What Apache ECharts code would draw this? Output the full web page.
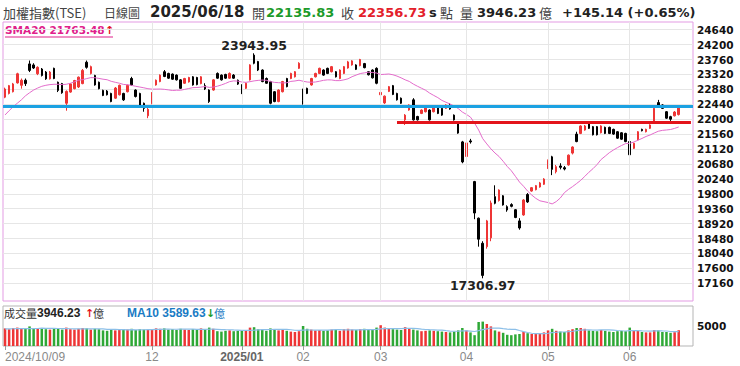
<!DOCTYPE html>
<html><head><meta charset="utf-8">
<script src="https://cdn.jsdelivr.net/npm/echarts@6/dist/echarts.min.js"></script>
<style>html,body{margin:0;padding:0;background:#fff}#c{width:740px;height:366px}</style>
</head><body><div id="c"></div>
<script>
// ---- trading days ----
const dates = [
'2024/10/09','2024/10/11','2024/10/14','2024/10/15','2024/10/16','2024/10/17','2024/10/18','2024/10/21','2024/10/22','2024/10/23','2024/10/24','2024/10/25','2024/10/28','2024/10/29','2024/10/30',
'2024/11/01','2024/11/04','2024/11/05','2024/11/06','2024/11/07','2024/11/08','2024/11/11','2024/11/12','2024/11/13','2024/11/14','2024/11/15','2024/11/18','2024/11/19','2024/11/20','2024/11/21','2024/11/22','2024/11/25','2024/11/26','2024/11/27','2024/11/28','2024/11/29',
'2024/12/02','2024/12/03','2024/12/04','2024/12/05','2024/12/06','2024/12/09','2024/12/10','2024/12/11','2024/12/12','2024/12/13','2024/12/16','2024/12/17','2024/12/18','2024/12/19','2024/12/20','2024/12/23','2024/12/24','2024/12/25','2024/12/26','2024/12/27','2024/12/30','2024/12/31',
'2025/01/02','2025/01/03','2025/01/06','2025/01/07','2025/01/08','2025/01/09','2025/01/10','2025/01/13','2025/01/14','2025/01/15','2025/01/16','2025/01/17','2025/01/20','2025/01/21','2025/01/22',
'2025/02/03','2025/02/04','2025/02/05','2025/02/06','2025/02/07','2025/02/10','2025/02/11','2025/02/12','2025/02/13','2025/02/14','2025/02/17','2025/02/18','2025/02/19','2025/02/20','2025/02/21','2025/02/24','2025/02/25','2025/02/26','2025/02/27',
'2025/03/03','2025/03/04','2025/03/05','2025/03/06','2025/03/07','2025/03/10','2025/03/11','2025/03/12','2025/03/13','2025/03/14','2025/03/17','2025/03/18','2025/03/19','2025/03/20','2025/03/21','2025/03/24','2025/03/25','2025/03/26','2025/03/27','2025/03/28','2025/03/31',
'2025/04/01','2025/04/02','2025/04/07','2025/04/08','2025/04/09','2025/04/10','2025/04/11','2025/04/14','2025/04/15','2025/04/16','2025/04/17','2025/04/18','2025/04/21','2025/04/22','2025/04/23','2025/04/24','2025/04/25','2025/04/28','2025/04/29','2025/04/30',
'2025/05/02','2025/05/05','2025/05/06','2025/05/07','2025/05/08','2025/05/09','2025/05/12','2025/05/13','2025/05/14','2025/05/15','2025/05/16','2025/05/19','2025/05/20','2025/05/21','2025/05/22','2025/05/23','2025/05/26','2025/05/27','2025/05/28','2025/05/29',
'2025/06/02','2025/06/03','2025/06/04','2025/06/05','2025/06/06','2025/06/09','2025/06/10','2025/06/11','2025/06/12','2025/06/13','2025/06/16','2025/06/17','2025/06/18'
];
const open = [
22650,22760,22810,23070,23000,23150,23630,23600,23340,23480,23390,23190,23500,23090,23050,
22470,22800,22900,22950,23050,23680,23350,23290,23090,22850,22830,22760,22620,22720,22760,22810,23200,22860,22760,22470,22100,
22470,23010,23110,23400,23350,23330,23300,23160,23060,23100,23250,23230,23050,22990,22860,22860,23350,23300,23320,23210,23300,23150,
23010,22910,23160,23890,23700,23450,23200,23110,22810,22520,22810,23200,23200,23250,23500,
22860,22910,23010,23250,23350,23450,23500,23400,23400,23200,23350,23510,23600,23600,23580,23640,23400,23450,23500,
22720,22480,22820,22990,22760,22620,21980,22270,22570,22080,22170,22220,22270,22220,22370,22320,22320,22420,22120,21880,21330,
20900,21360,20160,19080,18340,18240,18500,19715,19600,19740,19420,19480,19330,19000,19175,19780,19880,19920,20000,20080,
20550,20890,20450,20620,20570,20650,21000,21560,21580,21680,21880,21780,21780,21600,21760,21760,21700,21630,21600,21580,
21340,21140,21390,21700,21630,21730,21930,22490,22420,22220,22075,22100,22135.83
];
const close = [
22890,22990,23040,23340,23150,23050,23440,23510,23530,23290,23190,23390,23200,22850,22780,
22820,23040,23140,23240,23440,23530,23550,23010,22900,22700,22720,22520,22920,23000,22570,23000,23010,22670,22420,22320,22290,
22780,23150,23300,23260,23210,23180,23160,22910,23200,23230,23010,23020,23250,22890,22520,23160,23210,23160,23210,23350,23210,23035,
22770,23060,23600,23650,23450,23110,23060,22470,22520,22860,23110,22960,23350,23400,23650,
22560,22760,23200,23350,23500,23300,23350,23550,23250,23450,23550,23690,23720,23470,23760,23520,23310,23220,23060,
22790,22680,22960,22730,22570,22470,22120,22420,21980,21980,22270,22370,21980,22370,22170,22120,22420,22300,21980,21590,20740,
21300,21330,19232,18460,17392,19000,19529,19520,19910,19470,19320,19430,19100,18790,19617,19560,19980,20040,20120,20235,
20790,20520,20600,20580,20530,20940,21180,21340,21800,21800,21730,21540,21540,21800,21580,21580,21560,21440,21410,21340,
20950,21290,21630,21660,21700,21830,22320,22390,22320,22030,22000,22211.59,22356.73
];
const low = [
22620,22730,22790,23050,22900,22980,23390,23480,23300,23260,23160,23170,23180,22800,22750,
22250,22780,22880,22920,23030,23490,23320,22990,22880,22680,22700,22500,22600,22700,22540,22790,22990,22640,22400,22220,22030,
22440,22990,23090,23240,23190,23160,23140,22890,23040,23080,22990,23000,23030,22860,22480,22840,23190,23140,23190,23190,23190,23010,
22740,22890,23140,23620,23420,23090,23040,22440,22500,22500,22790,22940,23180,23230,23480,
22430,22740,22990,23230,23330,23280,23330,23380,23230,23180,23330,23490,23580,23450,23560,23500,23290,23200,23030,
22680,22450,22800,22710,22550,22450,21830,22250,21960,21960,22150,22200,21960,22200,22150,22100,22300,22280,21960,21570,20700,
20850,21280,19050,18240,17306.97,18180,18400,19490,19570,19450,19270,19400,19080,18740,19150,19530,19860,19900,19980,20060,
20530,20350,20400,20520,20490,20630,20960,21320,21560,21660,21710,21520,21520,21580,21560,21560,21540,21420,21390,21320,
20880,21120,21370,21640,21610,21710,21910,22370,22300,22010,21950,22080,22110
];
const high = [
22930,23010,23070,23370,23200,23200,23730,23650,23560,23510,23420,23420,23520,23110,23070,
22850,23060,23160,23260,23480,23730,23580,23310,23110,22870,22860,22780,22950,23020,22780,23020,23250,22880,22780,22490,22330,
22800,23170,23320,23450,23370,23350,23320,23180,23220,23250,23270,23250,23270,23060,22880,23180,23380,23320,23340,23380,23330,23170,
23030,23080,23620,23943.95,23720,23470,23230,23130,22830,22880,23130,23220,23370,23420,23680,
22900,22930,23220,23370,23520,23470,23520,23570,23420,23470,23570,23720,23740,23620,23780,23660,23420,23470,23530,
22830,22700,22980,23010,22780,22640,22150,22440,22620,22100,22290,22390,22290,22390,22390,22340,22440,22470,22140,21900,21360,
21340,21420,20180,19100,18400,19030,19600,20050,19930,19760,19460,19520,19350,19080,19640,19820,20000,20060,20150,20260,
20810,20920,20650,20700,20620,20960,21200,21630,21820,21830,21900,21800,21800,21820,21780,21780,21720,21650,21620,21600,
21360,21310,21650,21720,21720,21850,22340,22570,22440,22240,22100,22240,22380
];
// volume (億)
const volume = [
4400,4200,4500,4600,4400,4300,4900,4500,4300,4400,4200,4100,4300,4400,4100,
4600,4200,4100,4300,4500,4400,4100,4300,4200,3900,3800,4000,3900,4000,4200,4100,4300,4000,4200,4100,4000,
4200,4400,4300,4400,4100,4200,4000,4300,4100,4000,4200,4100,4400,4000,4600,4300,3700,3600,3800,3900,3700,3800,
3900,4000,4600,4700,4200,4100,3800,4400,4000,3900,4100,3800,3600,3500,3700,
5000,4300,4100,3900,4000,3800,3900,4100,4000,3800,4200,4300,4100,4000,4200,4300,4000,4100,4600,
5200,4600,4400,4200,4100,4000,4700,4300,4100,3900,3700,3800,3900,3800,3700,3600,3500,3400,3600,3900,4500,
3900,3400,2700,6000,6100,5500,4900,3900,3600,3300,2800,2700,2900,3000,3500,3200,3000,3100,3200,3400,
3900,4300,3800,3600,3500,3900,4200,4500,4500,4300,3900,3800,3700,4000,3800,3600,3500,3700,3800,3700,
4600,3900,3800,3500,3400,3400,4000,3900,3500,3500,3300,3450,3946.23
];
// moving-average values before enough history exists
const smaLead = [22125,22250,22370,22470,22570,22690,22780,22860,22920,22970,23000,23020,23030,23030,23020,23030,23060,23100,23150];
const volMaLead = [4300,4300,4310,4320,4330,4340,4350,4360,4380];
const yTicks = [17160,17600,18040,18480,18920,19360,19800,20240,20680,21120,21560,22000,22440,22880,23320,23760,24200,24640];
const blueLevel = 22370;
const redLevel = 21910;
const redStartDate = '2025/03/07';
const hiddenMonthLabels = ['2024/11/01'];
// header texts
const hdr = {name:'加權指數(TSE)', kind:'日線圖', date:'2025/06/18', open:'22135.83', close:'22356.73', vol:'3946.23', chg:'+145.14 (+0.65%)'};
const smaText = 'SMA20 21763.48';
const volText = '3946.23';
const volMaText = 'MA10 3589.63';

const padSlots = 3;
const categories = dates.concat(new Array(padSlots).fill(''));
const candles = dates.map((d, i) => [open[i], close[i], low[i], high[i]]);
const sma20 = close.map((c, i) => i < smaLead.length ? smaLead[i]
  : +(close.slice(i - 19, i + 1).reduce((a, b) => a + b, 0) / 20).toFixed(2));
const volMa10 = volume.map((v, i) => i < volMaLead.length ? volMaLead[i]
  : +(volume.slice(i - 9, i + 1).reduce((a, b) => a + b, 0) / 10).toFixed(2));
const UP = '#ee3535', DOWN = '#000000', VUP = '#ee3535', VDOWN = '#2ea836';
const volBars = volume.map((v, i) => ({value: v, itemStyle: {color: close[i] >= open[i] ? VUP : VDOWN}}));

// month starts
const monthStarts = [];
dates.forEach((d, i) => { if (i === 0 || d.slice(0, 7) !== dates[i - 1].slice(0, 7)) monthStarts.push(i); });
const labelIdx = new Set(monthStarts.filter(i => !hiddenMonthLabels.includes(dates[i])));
const gridLineIdx = monthStarts.filter(i => i > 0 && !hiddenMonthLabels.includes(dates[i]));

const CJK = '"Noto Sans CJK TC"';
const NUM = '"DejaVu Sans"';
const ARL = '"Liberation Sans"';
function txt(x, y, text, font, fill) {
  return {type: 'text', x: x, y: y, silent: true, style: {text: text, font: font, fill: fill, verticalAlign: 'middle', align: 'left'}};
}

const chart = echarts.init(document.getElementById('c'), null, {renderer: 'svg'});
chart.setOption({
  animation: false,
  backgroundColor: '#ffffff',
  grid: [
    {left: 3, top: 22, width: 690, height: 279, show: true, borderColor: '#e39be3', borderWidth: 1, backgroundColor: 'transparent'},
    {left: 3, top: 306, width: 690, height: 40, show: true, borderColor: '#b5b5b5', borderWidth: 1, backgroundColor: 'transparent'}
  ],
  xAxis: [
    {type: 'category', gridIndex: 0, data: categories, boundaryGap: true,
     axisLine: {show: false}, axisTick: {show: false}, axisLabel: {show: false}, splitLine: {show: false}},
    {type: 'category', gridIndex: 1, data: categories, boundaryGap: true,
     axisLine: {show: false},
     axisTick: {show: true, alignWithLabel: true, length: 4, interval: (i) => labelIdx.has(i), lineStyle: {color: '#999'}},
     axisLabel: {show: true, interval: (i) => labelIdx.has(i), margin: 5, color: '#8a8a8a', fontSize: 12, fontFamily: 'Liberation Sans',
       formatter: (v, i) => {
         if (i === 0) return '{first|' + v + '}';
         const m = v.slice(5, 7);
         if (m === '01') return '{yr|' + v.slice(0, 7) + '}';
         return m;
       },
       rich: {first: {padding: [0, 0, 0, 60], color: '#8a8a8a', fontSize: 12, fontFamily: 'Liberation Sans'},
              yr: {fontWeight: 'bold', color: '#666', fontSize: 12, fontFamily: 'Liberation Sans'}}},
     splitLine: {show: false}}
  ],
  yAxis: [
    {type: 'value', gridIndex: 0, position: 'right', min: 16637, max: 24867, scale: true,
     axisLine: {show: false}, axisTick: {show: false, customValues: yTicks},
     axisLabel: {customValues: yTicks, margin: 4, color: '#111', fontWeight: 'bold', fontSize: 10.5, fontFamily: NUM, formatter: v => String(v)},
     splitLine: {show: true, lineStyle: {color: '#e6e6e6', width: 1}}},
    {type: 'value', gridIndex: 1, position: 'right', min: 0, max: 10000, interval: 5000,
     axisLine: {show: false}, axisTick: {show: false},
     axisLabel: {margin: 4, color: '#111', fontWeight: 'bold', fontSize: 10.5, fontFamily: NUM, formatter: v => v === 5000 ? '5000' : ''},
     splitLine: {show: false}}
  ],
  series: [
    {type: 'line', xAxisIndex: 0, yAxisIndex: 0, data: [], silent: true, z: 1,
     markLine: {silent: true, symbol: 'none', label: {show: false},
       lineStyle: {color: '#e6e6e6', width: 1, type: 'solid'},
       data: gridLineIdx.map(i => ({xAxis: i}))}},
    {type: 'candlestick', xAxisIndex: 0, yAxisIndex: 0, data: candles, barWidth: 2, z: 3,
     itemStyle: {color: UP, color0: DOWN, borderColor: UP, borderColor0: DOWN, borderWidth: 1},
     markPoint: {symbol: 'rect', symbolSize: 0, silent: true,
       data: [
         {type: 'max', valueDim: 'highest', label: {position: 'top', distance: 1, formatter: p => Number(p.value).toFixed(2)}},
         {type: 'min', valueDim: 'lowest', label: {position: 'bottom', distance: 1, formatter: p => Number(p.value).toFixed(2)}}
       ],
       label: {show: true, color: '#222', fontWeight: 'bold', fontSize: 12.5, fontFamily: NUM}}},
    {type: 'line', xAxisIndex: 0, yAxisIndex: 0, data: sma20, symbol: 'none', silent: true, z: 4,
     lineStyle: {color: '#e36ccb', width: 1}},
    {type: 'line', xAxisIndex: 0, yAxisIndex: 0, data: [], silent: true, z: 5,
     markLine: {silent: true, symbol: 'none', label: {show: false},
       data: [
         {yAxis: blueLevel, lineStyle: {color: '#1ba1e2', width: 3, type: 'solid'}},
         [{coord: [dates.indexOf(redStartDate), redLevel], lineStyle: {color: '#e3141b', width: 3, type: 'solid'}},
          {coord: [categories.length - 1, redLevel]}]
       ]}},
    {type: 'bar', xAxisIndex: 1, yAxisIndex: 1, data: volBars, barWidth: 2.5, silent: true},
    {type: 'line', xAxisIndex: 1, yAxisIndex: 1, data: volMa10, symbol: 'none', silent: true, z: 4,
     lineStyle: {color: '#8cbfe8', width: 1.2}}
  ],
  graphic: [
    txt(3, 12, hdr.name, '13px ' + CJK, '#444'),
    txt(104, 12, hdr.kind, '12px ' + CJK, '#444'),
    txt(150, 12, hdr.date, 'bold 15px ' + NUM, '#222'),
    txt(252, 12, '開', '13px ' + CJK, '#444'),
    txt(266, 12, hdr.open, 'bold 13px ' + NUM, '#1c9a2a'),
    txt(341, 12, '收', '13px ' + CJK, '#444'),
    txt(358, 12, hdr.close, 'bold 13px ' + NUM, '#e3202a'),
    txt(429, 12, 's', 'bold 13px ' + NUM, '#222'),
    txt(440, 12, '點', '13px ' + CJK, '#444'),
    txt(460, 12, '量', '13px ' + CJK, '#444'),
    txt(477, 12, hdr.vol, 'bold 13px ' + NUM, '#222'),
    txt(539, 12, '億', '13px ' + CJK, '#444'),
    txt(562, 12, hdr.chg, 'bold 13px ' + NUM, '#222'),
    txt(5, 30, smaText, 'bold 10.5px ' + NUM, '#e0208a'),
    txt(105, 30, '↑', 'bold 11px ' + NUM, '#e3141b'),
    {type: 'rect', silent: true, shape: {x: 5, y: 36.5, width: 108, height: 1}, style: {fill: '#e0208a'}},
    txt(4, 313, '成交量', '11px ' + CJK, '#333'),
    txt(37, 313, volText, 'bold 12px ' + ARL, '#222'),
    txt(85, 313, '↑', 'bold 11px ' + NUM, '#e3141b'),
    txt(93, 313, '億', '11px ' + CJK, '#333'),
    txt(127, 313, volMaText, 'bold 12px ' + ARL, '#1a7bc4'),
    txt(206, 313, '↓', 'bold 11px ' + NUM, '#1c9a2a'),
    txt(214, 313, '億', '11px ' + CJK, '#1a7bc4')
  ]
});
</script>
</body></html>
